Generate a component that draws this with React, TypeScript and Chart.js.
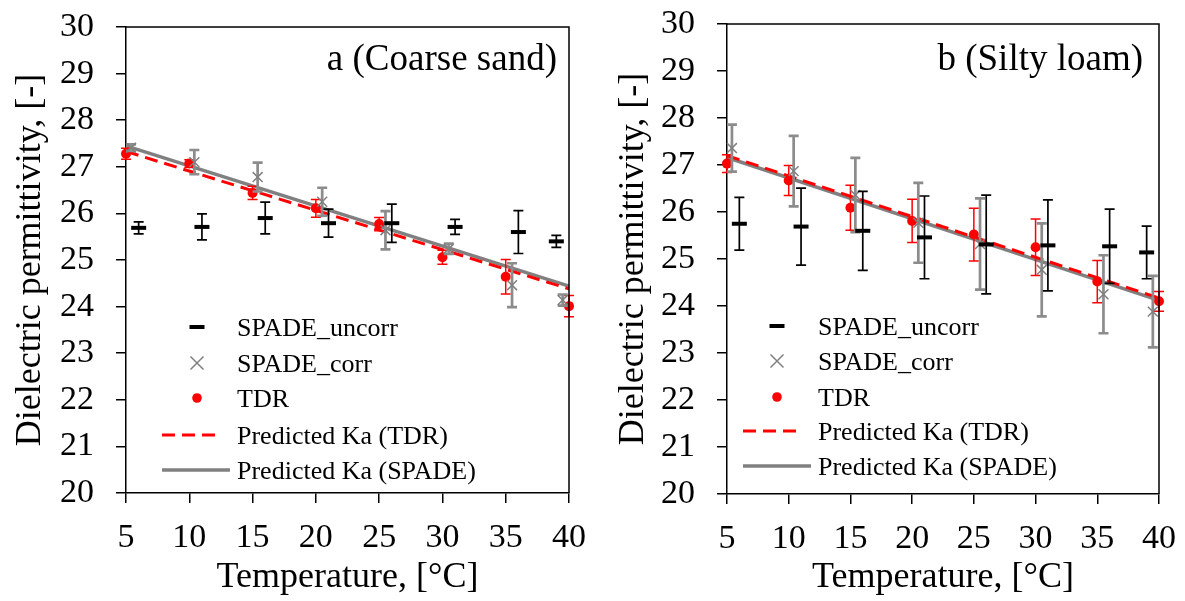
import React, { useEffect, useRef } from "react";
import { Chart, registerables } from "chart.js";

Chart.register(...registerables);

// ---------- data ----------
const tempTdr = [5, 10, 15, 20, 25, 30, 35, 40];
const tempCorr = [5.4, 10.4, 15.4, 20.5, 25.5, 30.5, 35.5, 39.5];
const tempUncorr = [6, 11, 16, 21, 26, 31, 36, 39];
const lineTemps = [5, 40];

const xTicks = [5, 10, 15, 20, 25, 30, 35, 40];
const yTicks = [20, 21, 22, 23, 24, 25, 26, 27, 28, 29, 30];

const seriesNames = [
  "SPADE_uncorr",
  "SPADE_corr",
  "TDR",
  "Predicted Ka (TDR)",
  "Predicted Ka (SPADE)",
];

// Panel a (Coarse sand)
const uncorrA = [25.69, 25.71, 25.9, 25.79, 25.79, 25.71, 25.6, 25.4];
const uncorrErrA = [0.13, 0.28, 0.34, 0.3, 0.41, 0.16, 0.46, 0.13];
const corrA = [27.41, 27.1, 26.78, 26.25, 25.64, 25.24, 24.46, 24.14];
const corrErrA = [0.07, 0.26, 0.31, 0.3, 0.41, 0.11, 0.47, 0.12];
const tdrA = [27.28, 27.07, 26.44, 26.11, 25.77, 25.06, 24.64, 24.01];
const tdrErrA = [0.12, 0.08, 0.14, 0.19, 0.14, 0.15, 0.37, 0.23];
const predTdrA = [27.33, 24.38];
const predSpadeA = [27.45, 24.44];

// Panel b (Silty loam)
const uncorrB = [25.75, 25.69, 25.6, 25.46, 25.31, 25.29, 25.27, 25.14];
const uncorrErrB = [0.56, 0.82, 0.84, 0.88, 1.05, 0.97, 0.79, 0.56];
const corrB = [27.36, 26.87, 26.36, 25.77, 25.32, 24.77, 24.25, 23.88];
const corrErrB = [0.5, 0.75, 0.79, 0.85, 0.97, 0.99, 0.83, 0.76];
const tdrB = [27.03, 26.67, 26.09, 25.81, 25.52, 25.25, 24.52, 24.1];
const tdrErrB = [0.19, 0.32, 0.48, 0.46, 0.56, 0.6, 0.45, 0.21];
const predTdrB = [27.2, 24.17];
const predSpadeB = [27.16, 24.12];

// ---------- styles ----------
const FONT = '"Liberation Serif", "Times New Roman", serif';
const GRAY = "#808080";
const GRAY_ERR = "#8c8c8c";
const RED = "#ff0000";
const DASH = [13, 7];

type Layout = {
  left: number;
  width: number;
  height: number;
  padTop: number;
  padRight: number;
  yAxisWidth: number;
  xAxisHeight: number;
  tag: string;
  tagInset: number;
  tagBaseline: number;
  legLineStart: number;
  legSolidEnd: number;
  legDashEnd: number;
  legSym: number;
  legText: number;
  legRows: number[];
  yTitlePad: number;
};

type PanelData = {
  uncorr: number[];
  uncorrErr: number[];
  corr: number[];
  corrErr: number[];
  tdr: number[];
  tdrErr: number[];
  predTdr: number[];
  predSpade: number[];
};

const layoutA: Layout = {
  left: 0,
  width: 592,
  height: 601,
  padTop: 27,
  padRight: 23,
  yAxisWidth: 126,
  xAxisHeight: 108,
  tag: "a (Coarse sand)",
  tagInset: 12,
  tagBaseline: 70,
  legLineStart: 36,
  legSolidEnd: 104,
  legDashEnd: 92,
  legSym: 71,
  legText: 111,
  legRows: [327, 363, 398, 435, 470],
  yTitlePad: 9,
};

const layoutB: Layout = {
  left: 592,
  width: 593,
  height: 601,
  padTop: 24,
  padRight: 26,
  yAxisWidth: 135,
  xAxisHeight: 107,
  tag: "b (Silty loam)",
  tagInset: 16,
  tagBaseline: 70,
  legLineStart: 16,
  legSolidEnd: 84,
  legDashEnd: 73,
  legSym: 50,
  legText: 91,
  legRows: [326, 361, 397, 431, 466],
  yTitlePad: 20,
};

const dataA: PanelData = {
  uncorr: uncorrA,
  uncorrErr: uncorrErrA,
  corr: corrA,
  corrErr: corrErrA,
  tdr: tdrA,
  tdrErr: tdrErrA,
  predTdr: predTdrA,
  predSpade: predSpadeA,
};

const dataB: PanelData = {
  uncorr: uncorrB,
  uncorrErr: uncorrErrB,
  corr: corrB,
  corrErr: corrErrB,
  tdr: tdrB,
  tdrErr: tdrErrB,
  predTdr: predTdrB,
  predSpade: predSpadeB,
};

const pts = (xs: number[], ys: number[]) => xs.map((x, i) => ({ x, y: ys[i] }));

const errorBarPlugin = {
  id: "errorBars",
  beforeDatasetDraw(chart: any, args: any) {
    const ds = chart.data.datasets[args.index];
    if (!ds.errors) return;
    const xs = chart.scales.x;
    const ys = chart.scales.y;
    const ctx = chart.ctx;
    ctx.save();
    ctx.strokeStyle = ds.errorColor;
    ctx.lineWidth = ds.errorWidth;
    ctx.lineCap = "butt";
    ds.data.forEach((p: any, i: number) => {
      const px = xs.getPixelForValue(p.x);
      const top = ys.getPixelForValue(p.y + ds.errors[i]);
      const bot = ys.getPixelForValue(p.y - ds.errors[i]);
      ctx.beginPath();
      ctx.moveTo(px, top);
      ctx.lineTo(px, bot);
      ctx.moveTo(px - 5, top);
      ctx.lineTo(px + 5, top);
      ctx.moveTo(px - 5, bot);
      ctx.lineTo(px + 5, bot);
      ctx.stroke();
    });
    ctx.restore();
  },
};

const framePlugin = {
  id: "frameAndLegend",
  afterDraw(chart: any) {
    const L: Layout = chart.options.plugins.frameAndLegend.layout;
    const ctx = chart.ctx;
    const a = chart.chartArea;
    ctx.save();
    // top & right frame
    ctx.strokeStyle = "#000";
    ctx.lineWidth = 1.5;
    ctx.beginPath();
    ctx.moveTo(a.left, a.top);
    ctx.lineTo(a.right, a.top);
    ctx.lineTo(a.right, a.bottom);
    ctx.stroke();

    // panel tag
    ctx.fillStyle = "#000";
    ctx.font = `37px ${FONT}`;
    ctx.textAlign = "right";
    ctx.textBaseline = "alphabetic";
    ctx.fillText(L.tag, a.right - L.tagInset, L.tagBaseline);

    // legend
    ctx.font = `26px ${FONT}`;
    ctx.textAlign = "left";
    const x0 = a.left;
    L.legRows.forEach((ry, i) => {
      const sx = x0 + L.legSym;
      ctx.save();
      if (i === 0) {
        ctx.strokeStyle = "#000";
        ctx.lineWidth = 4;
        ctx.beginPath();
        ctx.moveTo(sx - 7.5, ry);
        ctx.lineTo(sx + 7.5, ry);
        ctx.stroke();
      } else if (i === 1) {
        ctx.strokeStyle = GRAY;
        ctx.lineWidth = 1.5;
        ctx.beginPath();
        ctx.moveTo(sx - 6.5, ry - 6.5);
        ctx.lineTo(sx + 6.5, ry + 6.5);
        ctx.moveTo(sx - 6.5, ry + 6.5);
        ctx.lineTo(sx + 6.5, ry - 6.5);
        ctx.stroke();
      } else if (i === 2) {
        ctx.fillStyle = RED;
        ctx.beginPath();
        ctx.arc(sx, ry, 4.8, 0, Math.PI * 2);
        ctx.fill();
      } else if (i === 3) {
        ctx.strokeStyle = RED;
        ctx.lineWidth = 3;
        ctx.setLineDash(DASH);
        ctx.beginPath();
        ctx.moveTo(x0 + L.legLineStart, ry);
        ctx.lineTo(x0 + L.legDashEnd, ry);
        ctx.stroke();
      } else {
        ctx.strokeStyle = GRAY;
        ctx.lineWidth = 3.5;
        ctx.beginPath();
        ctx.moveTo(x0 + L.legLineStart, ry);
        ctx.lineTo(x0 + L.legSolidEnd, ry);
        ctx.stroke();
      }
      ctx.restore();
      ctx.fillStyle = "#000";
      ctx.fillText(seriesNames[i], x0 + L.legText, ry + 8.5);
    });
    ctx.restore();
  },
};

function Panel({ layout, data }: { layout: Layout; data: PanelData }) {
  const ref = useRef<HTMLCanvasElement | null>(null);
  useEffect(() => {
    if (!ref.current) return;
    const chart = new Chart(ref.current, {
      type: "scatter",
      data: {
        datasets: [
          {
            label: seriesNames[0],
            data: pts(tempUncorr, data.uncorr),
            pointStyle: "line",
            pointRadius: 7.5,
            pointBorderWidth: 4,
            borderColor: "#000",
            backgroundColor: "#000",
            showLine: false,
            clip: false,
            errors: data.uncorrErr,
            errorColor: "#000",
            errorWidth: 1.7,
          } as any,
          {
            label: seriesNames[1],
            data: pts(tempCorr, data.corr),
            pointStyle: "crossRot",
            pointRadius: 7,
            pointBorderWidth: 1.5,
            borderColor: GRAY,
            backgroundColor: GRAY,
            showLine: false,
            clip: false,
            errors: data.corrErr,
            errorColor: GRAY_ERR,
            errorWidth: 2.7,
          } as any,
          {
            label: seriesNames[2],
            data: pts(tempTdr, data.tdr),
            pointStyle: "circle",
            pointRadius: 5,
            pointBorderWidth: 0,
            borderColor: RED,
            backgroundColor: RED,
            showLine: false,
            clip: false,
            errors: data.tdrErr,
            errorColor: RED,
            errorWidth: 1.5,
          } as any,
          {
            label: seriesNames[3],
            data: pts(lineTemps, data.predTdr),
            showLine: true,
            pointRadius: 0,
            borderColor: RED,
            borderWidth: 3,
            borderDash: DASH,
            clip: false,
          } as any,
          {
            label: seriesNames[4],
            data: pts(lineTemps, data.predSpade),
            showLine: true,
            pointRadius: 0,
            borderColor: GRAY,
            borderWidth: 3.5,
            clip: false,
          } as any,
        ],
      },
      options: {
        animation: false,
        responsive: false,
        events: [],
        layout: {
          padding: { top: layout.padTop, right: layout.padRight, left: 0, bottom: 0 },
        },
        plugins: {
          legend: { display: false },
          tooltip: { enabled: false },
          frameAndLegend: { layout },
        } as any,
        scales: {
          x: {
            type: "linear",
            min: 5,
            max: 40,
            afterFit: (s: any) => {
              s.height = layout.xAxisHeight;
              s.paddingLeft = 0;
              s.paddingRight = 0;
            },
            afterBuildTicks: (s: any) => {
              s.ticks = xTicks.map((v) => ({ value: v }));
            },
            ticks: {
              color: "#000",
              font: { family: FONT, size: 34 },
              padding: 15,
              maxRotation: 0,
              autoSkip: false,
            },
            grid: {
              display: true,
              drawOnChartArea: false,
              drawTicks: true,
              tickLength: 10,
              color: "#000",
              lineWidth: 1.5,
            },
            border: { display: true, color: "#000", width: 1.5 },
            title: {
              display: true,
              text: "Temperature, [°C]",
              color: "#000",
              font: { family: FONT, size: 36 },
              padding: { top: 0, bottom: 2 },
            },
          },
          y: {
            type: "linear",
            min: 20,
            max: 30,
            afterFit: (s: any) => {
              s.width = layout.yAxisWidth;
              s.paddingTop = 0;
              s.paddingBottom = 0;
            },
            afterBuildTicks: (s: any) => {
              s.ticks = yTicks.map((v) => ({ value: v }));
            },
            ticks: {
              color: "#000",
              font: { family: FONT, size: 34 },
              padding: 22,
              autoSkip: false,
            },
            grid: {
              display: true,
              drawOnChartArea: false,
              drawTicks: true,
              tickLength: 10,
              color: "#000",
              lineWidth: 1.5,
            },
            border: { display: true, color: "#000", width: 1.5 },
            title: {
              display: true,
              text: "Dielectric permittivity, [-]",
              color: "#000",
              font: { family: FONT, size: 36 },
              padding: { top: layout.yTitlePad, bottom: 0 },
            },
          },
        },
      } as any,
      plugins: [errorBarPlugin, framePlugin],
    });
    return () => chart.destroy();
  }, [layout, data]);

  return (
    <canvas
      ref={ref}
      width={layout.width}
      height={layout.height}
      style={{
        position: "absolute",
        left: layout.left,
        top: 0,
        width: layout.width,
        height: layout.height,
      }}
    />
  );
}

export default function App() {
  return (
    <div
      style={{
        position: "absolute",
        left: 0,
        top: 0,
        width: 1185,
        height: 601,
        background: "#fff",
        overflow: "hidden",
      }}
    >
      <Panel layout={layoutA} data={dataA} />
      <Panel layout={layoutB} data={dataB} />
    </div>
  );
}
